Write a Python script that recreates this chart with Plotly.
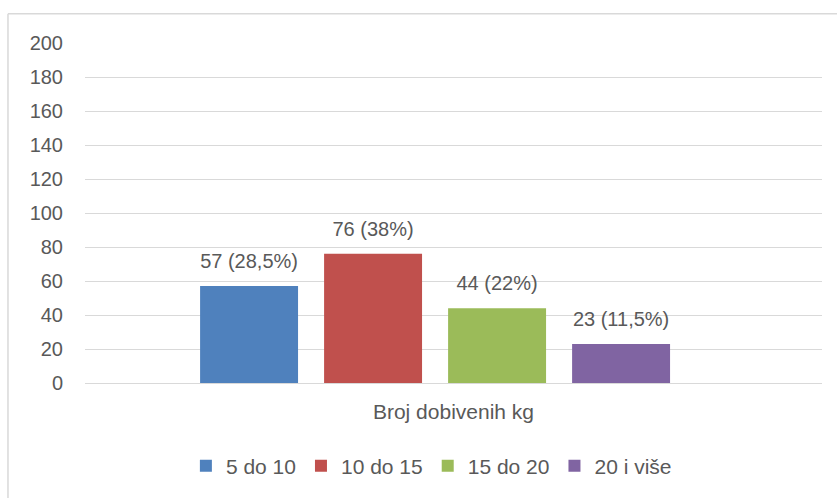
import plotly.graph_objects as go

category = ["Broj dobivenih kg"]
series_names = ["5 do 10", "10 do 15", "15 do 20", "20 i više"]
values = [57, 76, 44, 23]
percents = ["28,5%", "38%", "22%", "11,5%"]
colors = ["#4F81BD", "#C0504D", "#9BBB59", "#8064A2"]
y_ticks = [0, 20, 40, 60, 80, 100, 120, 140, 160, 180, 200]

FONT = "Liberation Sans"
TXT = "#595959"
GRID = "#D9D9D9"

fig = go.Figure()
for name, v, p, c in zip(series_names, values, percents, colors):
    fig.add_trace(go.Bar(
        x=category, y=[v], name=name,
        marker=dict(color=c, line=dict(width=0)),
        text=[f"<span style='font-size:20px'>{v} ({p})</span><br> "],
        textposition="outside", constraintext="none", cliponaxis=False,
        textfont=dict(family=FONT, size=10, color=TXT),
    ))

fig.update_layout(
    width=837, height=498,
    margin=dict(l=85, r=15, t=43, b=114),
    paper_bgcolor="white", plot_bgcolor="white",
    barmode="group", bargap=0.327, bargroupgap=0.21,
    showlegend=True,
    legend=dict(orientation="h", x=0.47, xanchor="center", y=-0.241, yanchor="middle",
                font=dict(family=FONT, size=21, color=TXT), itemwidth=30,
                traceorder="normal"),
    font=dict(family=FONT, color=TXT),
    xaxis=dict(range=[-0.475, 0.525], showticklabels=False, ticks="",
               showgrid=False, zeroline=False, showline=False,
               title=dict(text="Broj dobivenih kg", font=dict(family=FONT, size=21, color=TXT), standoff=21)),
    yaxis=dict(range=[0, 200], tickvals=y_ticks, ticks="", showline=False,
               gridcolor=GRID, gridwidth=1.3, zeroline=True, zerolinecolor=GRID, zerolinewidth=1.3,
               tickfont=dict(family=FONT, size=20, color=TXT), ticklabelstandoff=21),
    shapes=[
        dict(type="line", xref="paper", yref="paper", x0=-0.1045, x1=-0.1045, y0=-0.4, y1=1.0863,
             line=dict(color=GRID, width=1.5)),
        dict(type="line", xref="paper", yref="paper", x0=-0.1045, x1=1.05, y0=1.0863, y1=1.0863,
             line=dict(color=GRID, width=1.5)),
    ],
)

fig.write_html("out.html", config={"displayModeBar": False},
               post_script="document.body.style.margin='0';")
